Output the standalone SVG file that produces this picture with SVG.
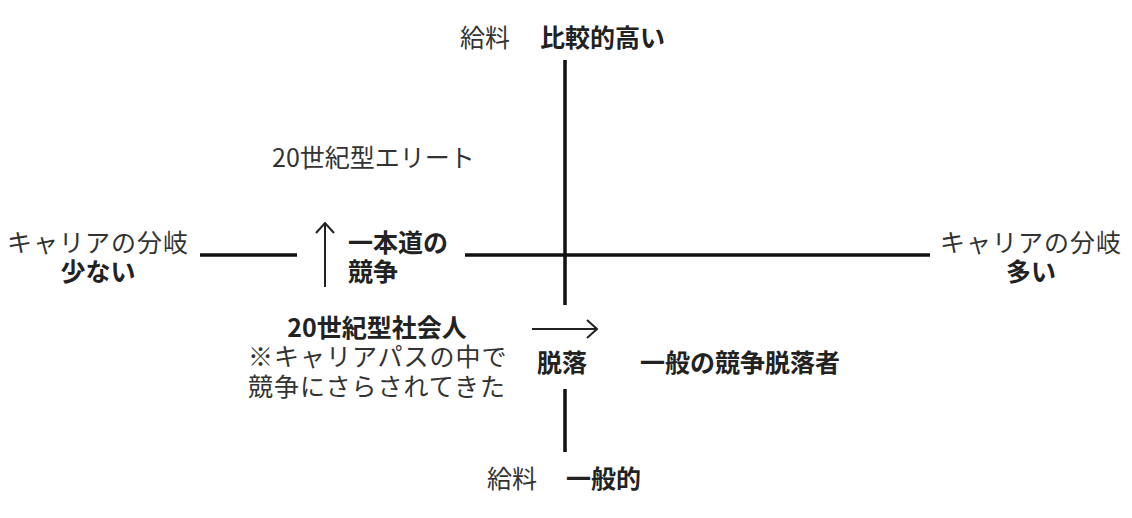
<svg xmlns="http://www.w3.org/2000/svg" width="1132" height="518" viewBox="0 0 1132 518">
  <defs>
    <style>
      text { font-family: "Noto Sans CJK JP", "Noto Sans", sans-serif; font-size: 25px; fill: #222; }
      .b { font-weight: bold; }
      .r { font-weight: normal; fill: #333; }
      .axis { stroke: #111; stroke-width: 3.5; fill: none; }
      .arrow { stroke: #222; stroke-width: 2; fill: none; }
    </style>
    <marker id="chev" viewBox="0 0 12 20" refX="11" refY="10" markerWidth="12" markerHeight="20" markerUnits="userSpaceOnUse" orient="auto">
      <path d="M1,1 L11,10 L1,19" fill="none" stroke="#222" stroke-width="2"/>
    </marker>
  </defs>
  <rect width="1132" height="518" fill="#fff"/>

  <g id="connectors">
    <line class="axis" x1="565" y1="60" x2="565" y2="305"/>
    <line class="axis" x1="565" y1="389" x2="565" y2="452"/>
    <line class="axis" x1="200" y1="255" x2="297" y2="255"/>
    <line class="axis" x1="465" y1="255" x2="930" y2="255"/>
    <line class="arrow" x1="325" y1="287" x2="325" y2="223" marker-end="url(#chev)"/>
    <line class="arrow" x1="532" y1="329" x2="597" y2="329" marker-end="url(#chev)"/>
  </g>

  <g id="salary-high">
    <text class="r" x="460" y="47">給料</text>
    <text class="b" x="540" y="47">比較的高い</text>
  </g>
  <g id="elite20">
    <text class="r" x="272" y="167">20世紀型エリート</text>
  </g>
  <g id="branch-few">
    <text class="r" x="98" y="252" text-anchor="middle" letter-spacing="1">キャリアの分岐</text>
    <text class="b" x="98" y="281" text-anchor="middle">少ない</text>
  </g>
  <g id="single-path">
    <text class="b" x="348" y="252">一本道の</text>
    <text class="b" x="348" y="281">競争</text>
  </g>
  <g id="branch-many">
    <text class="r" x="1031" y="252" text-anchor="middle" letter-spacing="1">キャリアの分岐</text>
    <text class="b" x="1031" y="281" text-anchor="middle">多い</text>
  </g>
  <g id="worker20">
    <text class="b" x="377" y="337" text-anchor="middle">20世紀型社会人</text>
    <text class="r" x="248" y="366" letter-spacing="1">※キャリアパスの中で</text>
    <text class="r" x="248" y="396" letter-spacing="1">競争にさらされてきた</text>
  </g>
  <g id="dropout">
    <text class="b" x="537" y="372">脱落</text>
  </g>
  <g id="general-dropout">
    <text class="b" x="640" y="372">一般の競争脱落者</text>
  </g>
  <g id="salary-general">
    <text class="r" x="487" y="488">給料</text>
    <text class="b" x="566" y="488">一般的</text>
  </g>
</svg>
